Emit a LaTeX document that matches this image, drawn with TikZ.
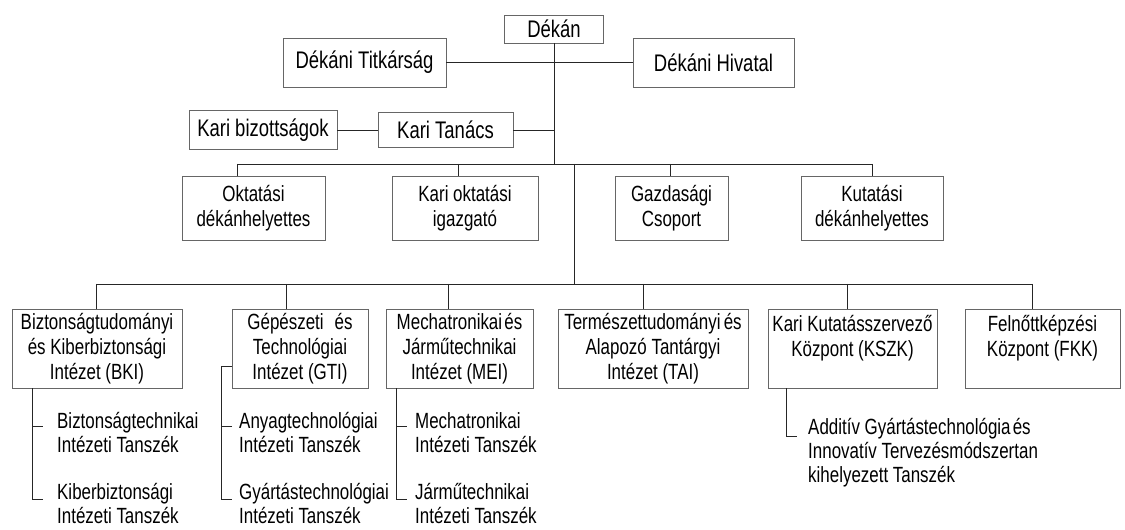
\documentclass[tikz,border=0pt]{standalone}
\usepackage{fontspec}
\setmainfont{Liberation Sans}[FakeStretch=0.77]
\usetikzlibrary{positioning}

\begin{document}
\begin{tikzpicture}[x=1pt,y=1pt,
  box/.style={draw=black!60, line width=0.8, inner sep=3, align=center},
  topbox/.style={box, font=\fontsize{24}{27}\selectfont},
  unitbox/.style={box, font=\fontsize{22}{25}\selectfont, minimum height=64},
  instbox/.style={box, font=\fontsize{22}{25}\selectfont, minimum height=79},
  dept/.style={inner sep=0, anchor=west, align=left, font=\fontsize{22}{24}\selectfont},
  link/.style={line width=0.8, color=black!85}]
\useasboundingbox[fill=white] (0,0) rectangle (1125,530);

\node[topbox, minimum width=99, minimum height=28] (dekan) at (554,501) {Dékán};
\node[topbox, minimum width=163, minimum height=49] (titk) at (364.5,467.5) {Dékáni Titkárság};
\node[topbox, minimum width=161, minimum height=49] (hivatal) at (713.5,467.5) {Dékáni Hivatal};
\node[topbox, minimum width=148, minimum height=39] (bizott) at (263,400) {Kari bizottságok};
\node[topbox, minimum width=135, minimum height=35] (tanacs) at (445.5,400) {Kari Tanács};

\node[unitbox, minimum width=143] (oktdh) at (253.5,322) {Oktatási\\dékánhelyettes};
\node[unitbox, minimum width=146] (karokt) at (465,322) {Kari oktatási\\igazgató};
\node[unitbox, minimum width=113] (gazd) at (671.5,322) {Gazdasági\\Csoport};
\node[unitbox, minimum width=142] (kutdh) at (872,322) {Kutatási\\dékánhelyettes};

\node[instbox, minimum width=170] (bki) at (97,181.5) {Biztonságtudományi\\és Kiberbiztonsági\\Intézet (BKI)};
\node[instbox, minimum width=136] (gti) at (300,181.5) {Gépészeti\hspace{.5em}és\\Technológiai\\Intézet (GTI)};
\node[instbox, minimum width=147] (mei) at (459.5,181.5) {Mechatronikai\hspace{.1em}és\\Járműtechnikai\\Intézet (MEI)};
\node[instbox, minimum width=190] (tai) at (653,181.5) {Természettudományi\hspace{.15em}és\\Alapozó Tantárgyi\\Intézet (TAI)};
\node[instbox, minimum width=169] (kszk) at (852.5,181.5) {Kari Kutatásszervező\\Központ (KSZK)\\\mbox{}};
\node[instbox, minimum width=155] (fkk) at (1042.5,181.5) {Felnőttképzési\\Központ (FKK)\\\mbox{}};

\node[dept] (btt) at (57,97) {Biztonságtechnikai\\Intézeti Tanszék};
\node[dept] (kbt) at (57,26) {Kiberbiztonsági\\Intézeti Tanszék};
\node[dept] (att) at (239,97) {Anyagtechnológiai\\Intézeti Tanszék};
\node[dept] (gyt) at (239,26) {Gyártástechnológiai\\Intézeti Tanszék};
\node[dept] (mit) at (415,97) {Mechatronikai\\Intézeti Tanszék};
\node[dept] (jtt) at (415,26) {Járműtechnikai\\Intézeti Tanszék};
\node[dept] (agt) at (808,77) {Additív Gyártástechnológia\hspace{.1em}és\\Innovatív Tervezésmódszertan\\kihelyezett Tanszék};

\coordinate (trunk) at (554,366);
\coordinate (bus1w) at (237,366);
\coordinate (bus1e) at (872,366);
\coordinate (drop-oktdh) at (237,366);
\coordinate (drop-karokt) at (458,366);
\coordinate (drop-gazd) at (670,366);
\coordinate (drop-kutdh) at (872,366);
\coordinate (trunk2) at (574,366);
\coordinate (bus2) at (574,246);
\coordinate (bus2w) at (96,246);
\coordinate (bus2e) at (1032,246);
\coordinate (drop-bki) at (96,246);
\coordinate (drop-gti) at (286,246);
\coordinate (drop-mei) at (448,246);
\coordinate (drop-tai) at (643,246);
\coordinate (drop-kszk) at (847,246);
\coordinate (drop-fkk) at (1032,246);

\draw[link] (titk) -- (hivatal);
\draw[link] (dekan) -- (trunk);
\draw[link] (bizott) -- (tanacs);
\draw[link] (tanacs.east) -- (tanacs.east -| trunk);
\draw[link] (bus1w) -- (bus1e);
\foreach \n in {oktdh,karokt,gazd,kutdh}
  \draw[link] (drop-\n) -- (drop-\n |- \n.north);
\draw[link] (trunk2) -- (bus2);
\draw[link] (bus2w) -- (bus2e);
\foreach \n in {bki,gti,mei,tai,kszk,fkk}
  \draw[link] (drop-\n) -- (drop-\n |- \n.north);

\coordinate (bki-v) at ([xshift=21pt]bki.south west);
\coordinate (bki-t1) at ([xshift=-14pt,yshift=7pt]btt.west);
\coordinate (bki-t2) at ([xshift=-14pt,yshift=5pt]kbt.west);
\draw[link] (bki-v) |- (bki-t2);
\draw[link] (bki-t1 -| bki-v) -- (bki-t1);

\coordinate (gti-s) at ([yshift=-17.5pt]gti.west);
\coordinate (gti-t1) at ([xshift=-7pt,yshift=7pt]att.west);
\coordinate (gti-t2) at ([xshift=-7pt,yshift=5pt]gyt.west);
\draw[link] (gti-s) -- ++(-10,0) |- (gti-t2);
\draw[link] (gti-t1) -- ++(-10,0);

\coordinate (mei-v) at ([xshift=11pt]mei.south west);
\coordinate (mei-t1) at ([xshift=-8pt,yshift=7pt]mit.west);
\coordinate (mei-t2) at ([xshift=-8pt,yshift=5pt]jtt.west);
\draw[link] (mei-v) |- (mei-t2);
\draw[link] (mei-t1 -| mei-v) -- (mei-t1);

\coordinate (kszk-v) at ([xshift=19pt]kszk.south west);
\coordinate (kszk-t) at ([xshift=-11pt,yshift=17pt]agt.west);
\draw[link] (kszk-v) |- (kszk-t);
\end{tikzpicture}
\end{document}
